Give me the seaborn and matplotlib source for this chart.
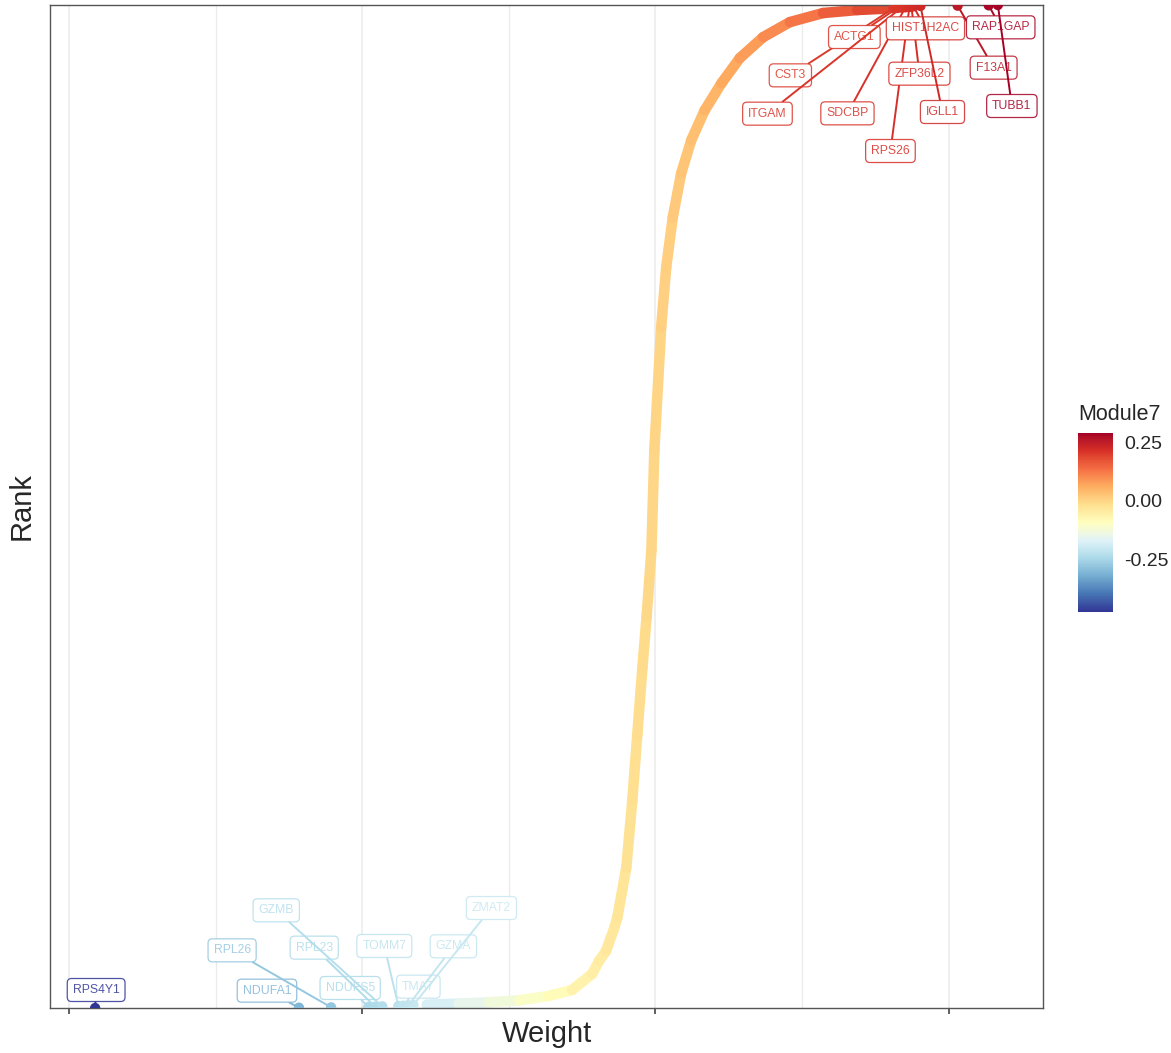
"""Rank-vs-weight curve for Module7 with the top and bottom genes labelled."""
import matplotlib
matplotlib.use("Agg")
import matplotlib.pyplot as plt
import numpy as np
import pandas as pd
import seaborn as sns
from matplotlib.collections import LineCollection
from matplotlib.colors import ListedColormap, Normalize, to_rgb

# ---- data ------------------------------------------------------------------
n_genes = 3000

# the bulk of the genes (sorted weight -> rank), sampled along the curve
curve_weight = [-0.195, -0.168, -0.142, -0.116, -0.091, -0.071, -0.054,
                -0.048, -0.042, -0.0351, -0.0325, -0.0248, -0.0197, -0.0154,
                -0.0111, -0.0075, -0.0034, -0.0009, 0.0049, 0.0092, 0.0148,
                0.0220, 0.0306, 0.0420, 0.0563, 0.0719, 0.0919, 0.1147,
                0.1430, 0.1721, 0.196]
curve_rank = [11, 14, 18, 24, 37, 55, 103, 142, 172, 240, 271, 421, 622, 820,
              1018, 1171, 1369, 1669, 2036, 2215, 2365, 2497, 2596, 2685,
              2766, 2841, 2904, 2949, 2976, 2985, 2989]

# labelled genes
bottom_genes = ["RPS4Y1", "NDUFA1", "RPL26", "NDUFS5", "RPL23", "GZMB",
                "TOMM7", "TMA7", "GZMA", "ZMAT2"]
bottom_weight = [-0.4777, -0.3039, -0.2765, -0.2449, -0.2389, -0.2329,
                 -0.2192, -0.2149, -0.2106, -0.2063]
bottom_rank = [1, 2, 3, 4, 5, 6, 7, 8, 9, 10]

top_genes = ["CST3", "ACTG1", "ITGAM", "SDCBP", "RPS26", "ZFP36L2",
             "HIST1H2AC", "IGLL1", "F13A1", "RAP1GAP", "TUBB1"]
top_weight = [0.2029, 0.2063, 0.2098, 0.2132, 0.2166, 0.2183, 0.2200,
              0.2260, 0.2577, 0.2842, 0.2920]
top_rank = [2990, 2991, 2992, 2993, 2994, 2995, 2996, 2997, 2998, 2999, 3000]

# where the repelled labels ended up, in pixels from their point (x right, y up)
label_offset_px = {
    "RPS4Y1": (1, 18), "NDUFA1": (-32, 17), "RPL26": (-99, 57),
    "NDUFS5": (-18, 19), "RPL23": (-61, 59), "GZMB": (-106, 96),
    "TOMM7": (-14, 60), "TMA7": (15, 19), "GZMA": (45, 59),
    "ZMAT2": (78, 97),
    "CST3": (-103, -67), "ACTG1": (-43, -29), "ITGAM": (-134, -106),
    "SDCBP": (-58, -106), "RPS26": (-19, -144), "ZFP36L2": (8, -67),
    "HIST1H2AC": (12, -22), "IGLL1": (22, -106), "F13A1": (36, -62),
    "RAP1GAP": (12, -22), "TUBB1": (14, -101),
}

palette_hex = ["#313695", "#4575b4", "#74add1", "#abd9e9", "#e0f3f8",
               "#ffffbf", "#fee090", "#fdae61", "#f46d43", "#d73027",
               "#a50026"]

labelled = pd.DataFrame({
    "gene": bottom_genes + top_genes,
    "weight": bottom_weight + top_weight,
    "rank": bottom_rank + top_rank,
})


# ---- colour ramp interpolated in CIELAB, like ggplot's gradientn -----------
_M = np.array([[0.4124, 0.3576, 0.1805],
               [0.2126, 0.7152, 0.0722],
               [0.0193, 0.1192, 0.9505]])
_WHITE = np.array([0.95047, 1.0, 1.08883])


def _to_lab(rgb):
    rgb = np.asarray(rgb)
    lin = np.where(rgb <= 0.04045, rgb / 12.92, ((rgb + 0.055) / 1.055) ** 2.4)
    xyz = lin @ _M.T / _WHITE
    d = 6 / 29
    f = np.where(xyz > d ** 3, np.cbrt(xyz), xyz / (3 * d * d) + 4 / 29)
    return np.column_stack([116 * f[:, 1] - 16, 500 * (f[:, 0] - f[:, 1]),
                            200 * (f[:, 1] - f[:, 2])])


def _from_lab(lab):
    fy = (lab[:, 0] + 16) / 116
    f = np.column_stack([fy + lab[:, 1] / 500, fy, fy - lab[:, 2] / 200])
    d = 6 / 29
    xyz = np.where(f > d, f ** 3, 3 * d * d * (f - 4 / 29)) * _WHITE
    lin = xyz @ np.linalg.inv(_M).T
    lin = np.clip(lin, 0, 1)
    rgb = np.where(lin <= 0.0031308, lin * 12.92,
                   1.055 * lin ** (1 / 2.4) - 0.055)
    return np.clip(rgb, 0, 1)


def lab_cmap(hexes, n=256):
    lab = _to_lab([to_rgb(h) for h in hexes])
    stops = np.linspace(0, 1, len(hexes))
    t = np.linspace(0, 1, n)
    out = np.column_stack([np.interp(t, stops, lab[:, i]) for i in range(3)])
    return ListedColormap(_from_lab(out))


# ---- plot ------------------------------------------------------------------
sns.set_style("white")
plt.rcParams["font.family"] = ["Liberation Sans", "DejaVu Sans"]

cmap = lab_cmap(palette_hex)
all_w = curve_weight + bottom_weight + top_weight
norm = Normalize(vmin=min(all_w), vmax=max(all_w))

fig = plt.figure(figsize=(11.71, 10.53), dpi=100)
ax = fig.add_axes([50 / 1171, 45 / 1053, 993 / 1171, 1003 / 1053])

pts = np.column_stack([curve_weight, curve_rank])
segs = np.stack([pts[:-1], pts[1:]], axis=1)
seg_w = (np.array(curve_weight[:-1]) + np.array(curve_weight[1:])) / 2
lc = LineCollection(segs, colors=cmap(norm(seg_w)), linewidths=7.6,
                    capstyle="round", joinstyle="round", zorder=2)
ax.add_collection(lc)

sns.scatterplot(data=labelled, x="weight", y="rank", hue="weight",
                hue_norm=norm, palette=cmap, s=55, linewidth=0,
                legend=False, zorder=3, ax=ax)

for gene, w, r in zip(labelled["gene"], labelled["weight"], labelled["rank"]):
    c = cmap(norm(w))
    c_soft = (*c[:3], 0.85)
    dx, dy = label_offset_px[gene]
    ax.annotate(
        gene, xy=(w, r), xytext=(dx * 0.72, dy * 0.72),
        textcoords="offset points", ha="center", va="center",
        fontsize=8.8, color=c_soft, annotation_clip=False, zorder=5,
        bbox=dict(boxstyle="round,pad=0.45,rounding_size=0.35", fc="white",
                  ec=c_soft, lw=0.9),
        arrowprops=dict(arrowstyle="-", color=c, lw=1.4, shrinkA=0,
                        shrinkB=2),
    )

x_lo, x_hi = min(all_w), max(all_w)
pad = (x_hi - x_lo) * 0.05
ax.set_xlim(x_lo - pad, x_hi + pad)
ax.set_ylim(1, n_genes)

ax.set_xticks([-0.5, -0.25, 0.0, 0.25])
ax.set_xticks([-0.375, -0.125, 0.125], minor=True)
ax.set_xticklabels([])
ax.set_yticks([])
ax.grid(axis="x", which="major", color="#ebebeb", lw=1.1)
ax.grid(axis="x", which="minor", color="#ebebeb", lw=0.9)
ax.set_axisbelow(True)
ax.tick_params(axis="x", which="major", direction="out", length=4,
               width=1.1, color="#333333", bottom=True)
ax.tick_params(axis="x", which="minor", length=0)
for sp in ax.spines.values():
    sp.set_color("#555555")
    sp.set_linewidth(1.0)

ax.set_xlabel("Weight", fontsize=21, labelpad=1)
ax.set_ylabel("Rank", fontsize=21, labelpad=10)

# colour bar
cax = fig.add_axes([1078 / 1171, 1 - 612 / 1053, 35 / 1171, 179 / 1053])
cb = fig.colorbar(plt.cm.ScalarMappable(norm=norm, cmap=cmap), cax=cax)
cb.set_ticks([-0.25, 0.0, 0.25])
cb.set_ticklabels(["-0.25", "0.00", "0.25"])
cb.outline.set_visible(False)
cax.tick_params(axis="y", direction="in", color="white", length=6, width=1,
                left=True, right=True, labelsize=14, pad=8)
fig.text(1078 / 1171, 1 - 415 / 1053, "Module7", fontsize=15.5,
         ha="left", va="center")

fig.savefig("out.png", dpi=100)
